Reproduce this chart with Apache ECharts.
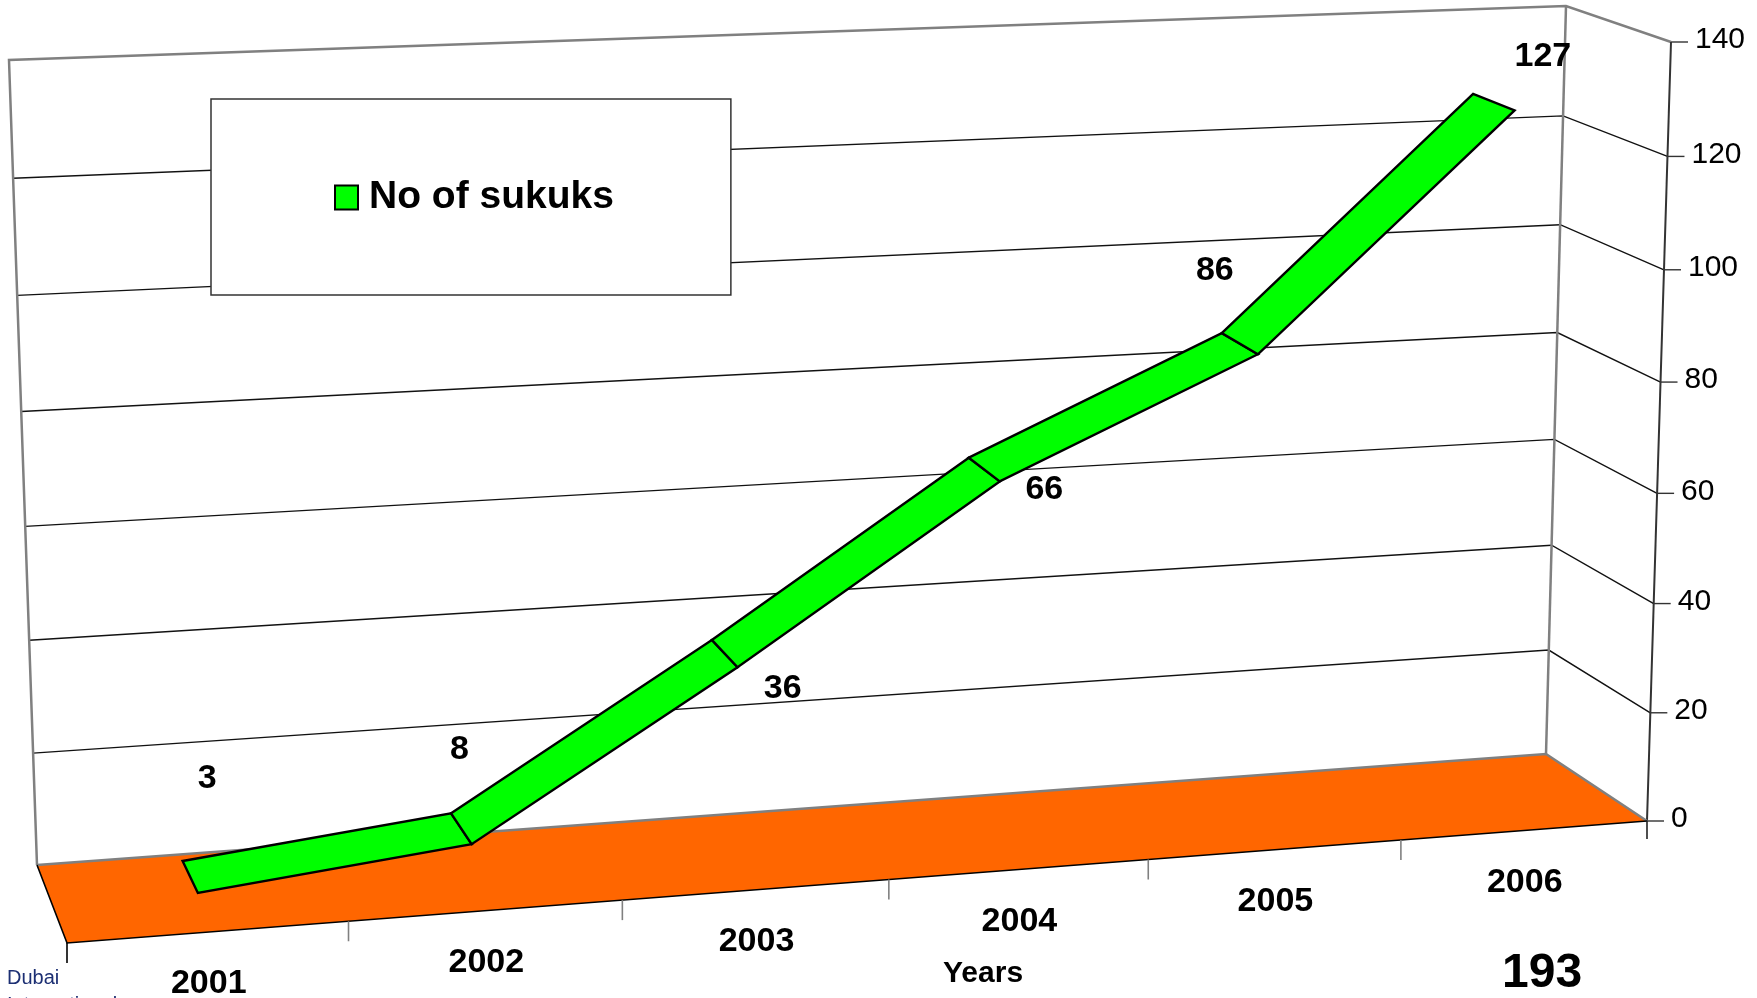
<!DOCTYPE html>
<html><head><meta charset="utf-8">
<style>html,body{margin:0;padding:0;background:#fff;overflow:hidden}#c{width:1757px;height:998px}</style>
<script src="https://cdn.jsdelivr.net/npm/echarts@6/dist/echarts.min.js"></script>
</head><body><div id="c"></div>
<script>
const years = ['2001','2002','2003','2004','2005','2006'];
const sukuks = [3, 8, 36, 66, 86, 127];
const valueTicks = [0, 20, 40, 60, 80, 100, 120, 140];
const seriesName = 'No of sukuks';
const xAxisTitle = 'Years';
const pageNumber = '193';

// Layout of the 3D box
const box = {
  BLB:[37,865], BRB:[1546,754], BLT:[9,60], BRT:[1566,6],
  FLB:[67,943], FRB:[1647,821], FLT:[38,104], FRT:[1671,42]
};
const persU = 1.084, persV = 0.968;
const ribbonDepth = [0.295, 0.715];
const labelShift = [[17,-98],[-2,-79],[58,35],[60,20],[-25,-73],[49,-46]];
const FONT = '"Liberation Sans", Arial, sans-serif';
const GRAY = '#808080';

const warp = (t, a) => a * t / (1 + (a - 1) * t);
const mix = (p, q, t) => [p[0] + (q[0] - p[0]) * t, p[1] + (q[1] - p[1]) * t];
function project(u, v, w) {
  const uu = warp(u, persU), vv = warp(v, persV);
  const backBottom = mix(box.BLB, box.BRB, uu), backTop = mix(box.BLT, box.BRT, uu);
  const frontBottom = mix(box.FLB, box.FRB, uu), frontTop = mix(box.FLT, box.FRT, uu);
  return mix(mix(backBottom, backTop, vv), mix(frontBottom, frontTop, vv), w);
}
function norm(params, api, cat, val) {
  const cs = params.coordSys, c = api.coord([cat, val]);
  return [(c[0] - cs.x) / cs.width, 1 - (c[1] - cs.y) / cs.height];
}
const line = (pts, stroke, lineWidth, z2) => ({
  type: 'polyline', z2: z2 || 1, shape: { points: pts },
  style: { stroke, lineWidth, fill: null, lineJoin: 'miter' }
});
const text = (x, y, str, size, weight, align, z2) => ({
  type: 'text', z2: z2 || 20,
  style: { x, y, text: str, fill: '#000', font: weight + ' ' + size + 'px ' + FONT, align: align || 'center', verticalAlign: 'middle' }
});

function renderFrame(params, api) {
  const children = [];
  const topV = norm(params, api, 0, valueTicks[valueTicks.length - 1])[1];
  valueTicks.forEach((t) => {
    const v = norm(params, api, 0, t)[1];
    const a = project(0, v, 0), b = project(1, v, 0), c = project(1, v, 1);
    if (t !== 0 && t !== valueTicks[valueTicks.length - 1]) children.push(line([a, b, c], '#111', 1.4, 1));
    children.push(line([c, [c[0] + 17, c[1]]], '#333', 1.4, 2));
    children.push(text(c[0] + 24, c[1] - 2, String(t), 30, 'normal', 'left'));
  });
  // Walls
  children.push(line([project(0, 0, 0), project(0, topV, 0), project(1, topV, 0), project(1, topV, 1)], GRAY, 2.5, 3));
  children.push(line([project(1, topV, 0), project(1, 0, 0)], GRAY, 2.5, 3));
  children.push(line([project(1, 0, 1), project(1, topV, 1)], '#333', 2, 3));
  // Floor
  const fl = [project(0,0,0), project(1,0,0), project(1,0,1), project(0,0,1)];
  children.push({ type: 'polygon', z2: 4, shape: { points: fl }, style: { fill: '#ff6600' } });
  children.push(line([fl[0], fl[1], fl[2]], GRAY, 2.5, 5));
  children.push(line([fl[0], fl[3], fl[2]], '#000', 1.6, 5));
  // Category ticks and labels
  const band = api.size([1, 0])[0] / params.coordSys.width;
  years.forEach((y, i) => {
    const mid = norm(params, api, i, 0)[0];
    const p = project(mid - band / 2, 0, 1);
    children.push(line([p, [p[0], p[1] + 20]], i === 0 ? '#000' : GRAY, 1.6, 5));
    const m = project(mid, 0, 1);
    children.push(text(m[0], m[1] + 52, y, 34, 'bold'));
  });
  const last = project(1, 0, 1);
  children.push(line([last, [last[0], last[1] + 18]], '#222', 1.6, 5));
  return { type: 'group', children };
}

function renderRibbon(params, api) {
  const i = api.value(0), val = api.value(1);
  const children = [];
  const p = norm(params, api, i, val);
  if (i < sukuks.length - 1) {
    const q = norm(params, api, i + 1, sukuks[i + 1]);
    const pts = [
      project(p[0], p[1], ribbonDepth[0]), project(q[0], q[1], ribbonDepth[0]),
      project(q[0], q[1], ribbonDepth[1]), project(p[0], p[1], ribbonDepth[1])
    ];
    children.push({ type: 'polygon', z2: 10, shape: { points: pts },
      style: { fill: api.visual('color'), stroke: '#000', lineWidth: 2.4, lineJoin: 'miter' } });
  }
  const m = project(p[0], p[1], (ribbonDepth[0] + ribbonDepth[1]) / 2);
  children.push(text(m[0] + labelShift[i][0], m[1] + labelShift[i][1], String(val), 34, 'bold', 'center', 30));
  return { type: 'group', children };
}

const chart = echarts.init(document.getElementById('c'), null, { renderer: 'canvas' });
chart.setOption({
  animation: false,
  backgroundColor: '#fff',
  grid: { left: 100, right: 100, top: 100, bottom: 100 },
  xAxis: { type: 'category', data: years, show: false, boundaryGap: true },
  yAxis: { type: 'value', min: 0, max: 140, interval: 20, show: false },
  legend: {
    data: [seriesName], left: 211, top: 99, z: 50, icon: 'rect',
    itemWidth: 23, itemHeight: 24, itemGap: 0,
    padding: [79, 117, 78, 123], backgroundColor: '#fff', borderColor: '#333', borderWidth: 1.5,
    textStyle: { fontFamily: FONT, fontWeight: 'bold', fontSize: 39, color: '#000', padding: [7, 0, 0, 6] },
    itemStyle: { color: '#00ff00', borderColor: '#000', borderWidth: 2 }
  },
  graphic: [
    { type: 'text', left: 1502, top: 950, style: { text: pageNumber, fill: '#000', font: 'bold 48px ' + FONT } },
    { type: 'text', left: 7, top: 968, style: { text: 'Dubai', fill: '#1c2f73', font: 'normal 20px ' + FONT } },
    { type: 'text', left: 7, top: 995, style: { text: 'International', fill: '#1c2f73', font: 'normal 20px ' + FONT } },
    { type: 'text', left: 943, top: 959, style: { text: xAxisTitle, fill: '#000', font: 'bold 30px ' + FONT } }
  ],
  series: [
    { type: 'custom', name: 'frame', silent: true, clip: false, z: 1, coordinateSystem: 'cartesian2d',
      data: [[0, 0]], encode: { x: 0, y: 1 }, renderItem: renderFrame },
    { type: 'custom', name: seriesName, silent: true, clip: false, z: 5, coordinateSystem: 'cartesian2d',
      itemStyle: { color: '#00ff00' },
      data: sukuks.map((v, i) => [i, v]), encode: { x: 0, y: 1 }, renderItem: renderRibbon }
  ]
});
</script></body></html>
